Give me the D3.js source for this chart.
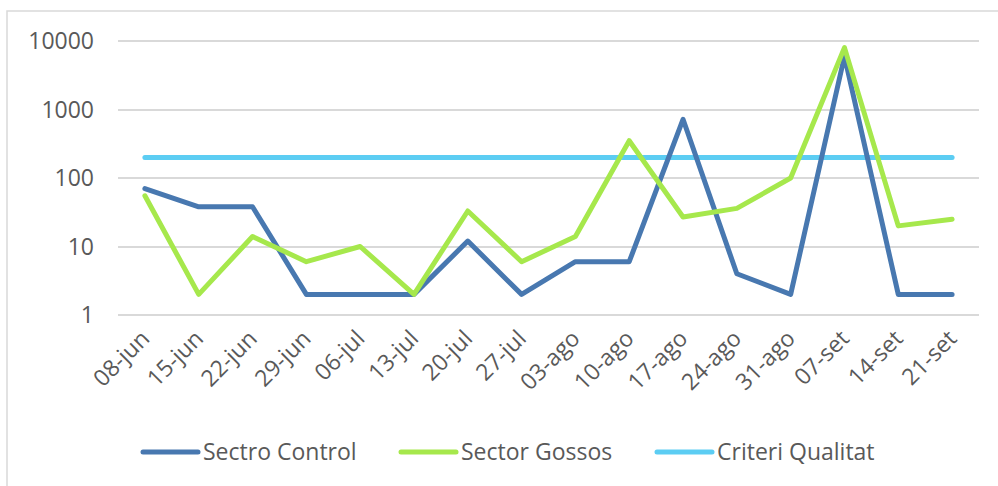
<!DOCTYPE html>
<meta charset="utf-8">
<style>
body { margin: 0; background: #fff; }
text { font-family: "Open Sans", sans-serif; fill: #595959; }
.grid line { stroke: #d9d9d9; stroke-width: 2; shape-rendering: crispEdges; }
.serie { fill: none; stroke-width: 5; stroke-linejoin: round; stroke-linecap: round; }
</style>
<body>
<script src="https://cdn.jsdelivr.net/npm/d3@7"></script>
<script>

var dates = ["08-jun","15-jun","22-jun","29-jun","06-jul","13-jul","20-jul","27-jul",
             "03-ago","10-ago","17-ago","24-ago","31-ago","07-set","14-set","21-set"];
var control = [70, 38, 38, 2, 2, 2, 12, 2, 6, 6, 720, 4, 2, 6000, 2, 2];
var gossos  = [55, 2, 14, 6, 10, 2, 33, 6, 14, 350, 27, 36, 100, 8000, 20, 25];
var criteri = [200, 200, 200, 200, 200, 200, 200, 200, 200, 200, 200, 200, 200, 200, 200, 200];
var yTicks = [1, 10, 100, 1000, 10000];

var names = ["Sectro Control", "Sector Gossos", "Criteri Qualitat"];
var colors = ["#4878b0", "#a6e84c", "#5ccdf3"];
var series = [control, gossos, criteri];

var width = 998, height = 486;

var svg = d3.select("body").append("svg")
    .attr("width", width)
    .attr("height", height);

// marc del grafic
svg.append("rect")
    .attr("x", 7).attr("y", 11)
    .attr("width", 1000).attr("height", 500)
    .attr("fill", "none")
    .attr("stroke", "#d9d9d9")
    .attr("stroke-width", 1.5);

var x = d3.scaleBand()
    .domain(dates)
    .range([118, 979]);

var y = d3.scaleLog()
    .domain([1, 10000])
    .range([315, 41]);

// linies de la graella
svg.append("g")
    .attr("class", "grid")
    .selectAll("line")
    .data(yTicks).enter()
    .append("line")
      .attr("x1", 118).attr("x2", 979)
      .attr("y1", function(d) { return Math.round(y(d)); })
      .attr("y2", function(d) { return Math.round(y(d)); });

// eix y
svg.append("g")
    .selectAll("text")
    .data(yTicks).enter()
    .append("text")
      .attr("x", 94)
      .attr("y", function(d) { return y(d); })
      .attr("dy", "0.35em")
      .attr("text-anchor", "end")
      .style("font-size", "23px")
      .text(function(d) { return d; });

// eix x
svg.append("g")
    .selectAll("text")
    .data(dates).enter()
    .append("text")
      .attr("text-anchor", "end")
      .style("font-size", "23px")
      .attr("transform", function(d) {
        return "translate(" + (x(d) + x.bandwidth() / 2 + 6) + ",340) rotate(-45)";
      })
      .text(function(d) { return d; });

var line = d3.line()
    .x(function(d, i) { return x(dates[i]) + x.bandwidth() / 2; })
    .y(function(d) { return y(d); });

// series, el criteri va per sota
[2, 0, 1].forEach(function(k) {
  svg.append("path")
    .datum(series[k])
    .attr("class", "serie")
    .attr("stroke", colors[k])
    .attr("d", line);
});

// llegenda
var legX = [143, 401, 657];
var legend = svg.selectAll(".legend")
    .data(names).enter()
    .append("g")
      .attr("class", "legend")
      .attr("transform", function(d, i) { return "translate(" + legX[i] + ",452)"; });

legend.append("line")
    .attr("x1", 0).attr("x2", 55)
    .attr("stroke", function(d, i) { return colors[i]; })
    .attr("stroke-width", 5)
    .attr("stroke-linecap", "round");

legend.append("text")
    .attr("x", 60)
    .attr("dy", "0.35em")
    .style("font-size", "23px")
    .text(function(d) { return d; });

</script>
</body>
